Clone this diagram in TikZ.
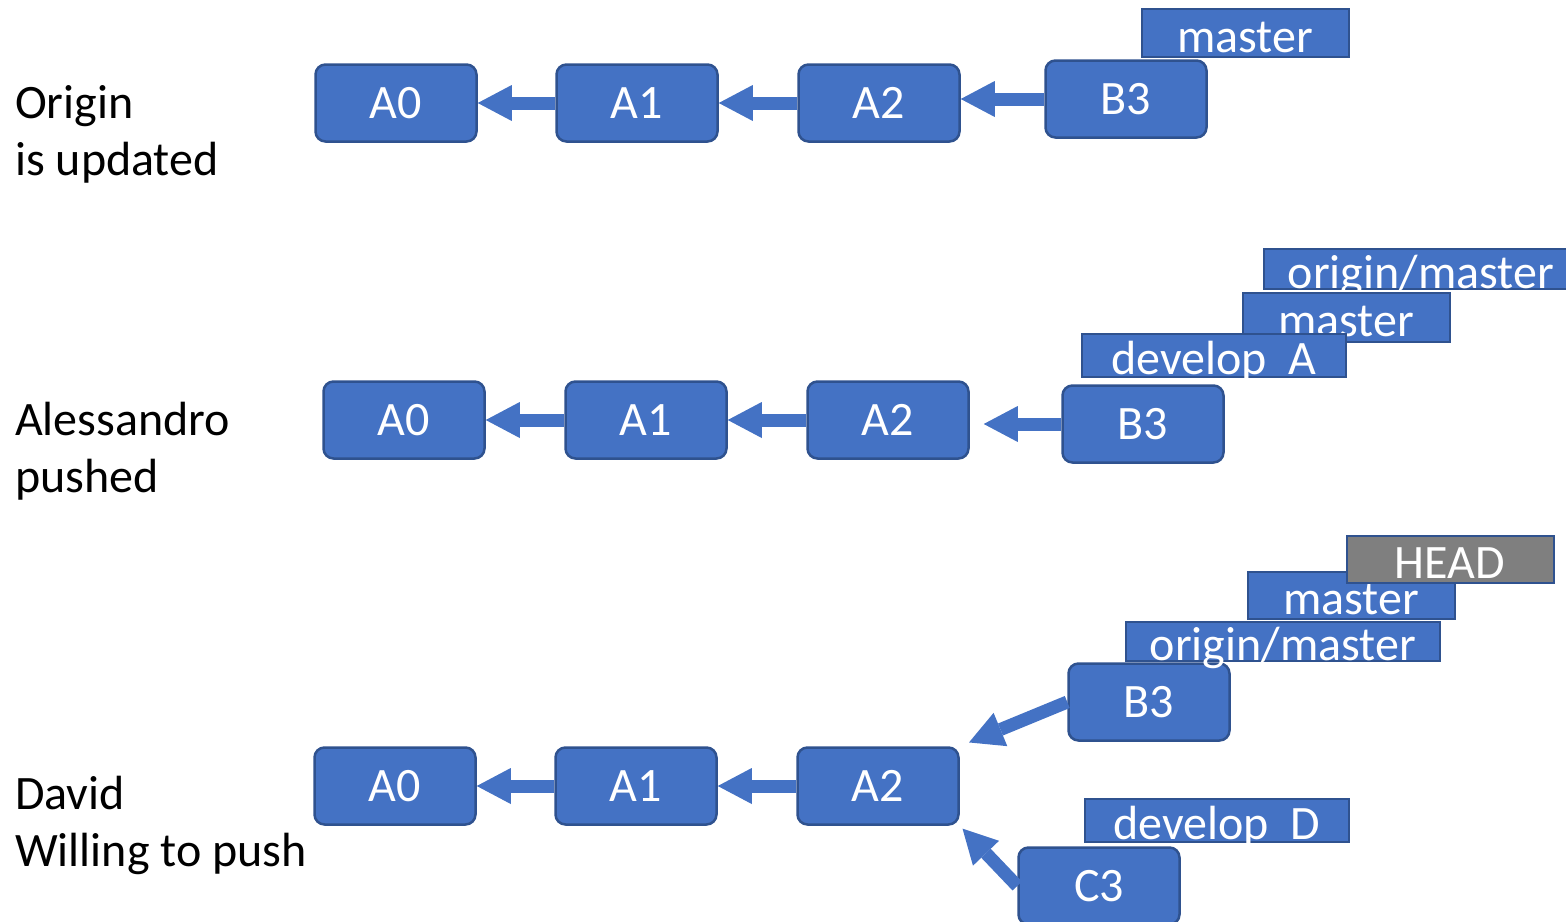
\documentclass[tikz,border=0pt]{standalone}
\usepackage{fontspec}
\setmainfont{Carlito}
\usetikzlibrary{arrows.meta}
\definecolor{gitblue}{HTML}{4472C4}
\definecolor{bordblue}{HTML}{2F528F}
\definecolor{headgray}{HTML}{7F7F7F}
\newcommand{\gitfont}{\fontsize{48}{57}\selectfont}

\begin{document}
\begin{tikzpicture}[x=1pt,y=-1pt,
		commit/.style={rectangle, rounded corners=10pt, draw=bordblue, fill=gitblue, line width=2.5pt,
			minimum width=161pt, minimum height=77pt, inner sep=0pt, text=white, font=\gitfont},
		branch/.style={rectangle, draw=bordblue, fill=gitblue, line width=2pt, inner sep=0pt,
			text height=38pt, text depth=0pt, text=white, font=\gitfont},
		headref/.style={branch, fill=headgray, draw=bordblue},
		gitarrow/.style={color=gitblue, line width=13pt, -{Triangle[width=36pt,length=34pt,line width=0pt]}},
		caption/.style={anchor=base west, align=left, inner sep=0pt, font=\gitfont}]
			\useasboundingbox (0,0) rectangle (1566,921);
			% origin
			\node[caption] (origintxt) at (15,175) {Origin\\is updated};
			\node[commit] (oA0) at (396,103) {A0};
			\node[commit] (oA1) at (637,103) {A1};
			\node[commit] (oA2) at (879,103) {A2};
			\node[commit] (oB3) at (1126,99) {B3};
			\node[branch, minimum width=207pt, minimum height=48pt] (omaster) at (1245,33) {master};
			\draw[gitarrow] (oA1.west) -- (oA0.east);
			\draw[gitarrow] (oA2.west) -- (oA1.east);
			\draw[gitarrow] (oB3.west) -- (oB3.west -| oA2.east);
			% alessandro
			\node[caption] (alextxt) at (15,492) {Alessandro\\pushed};
			\node[commit] (aA0) at (404,420) {A0};
			\node[commit] (aA1) at (646,420) {A1};
			\node[commit] (aA2) at (888,420) {A2};
			\node[commit] (aB3) at (1143,424) {B3};
			\node[branch, minimum width=314pt, minimum height=40pt] (aorigin) at (1421,269) {origin/master};
			\node[branch, minimum width=207pt, minimum height=49pt] (amaster) at (1346,317) {master};
			\node[branch, minimum width=264pt, minimum height=43pt] (adevelop) at (1214,355) {develop\ \ A};
			\draw[gitarrow] (aA1.west) -- (aA0.east);
			\draw[gitarrow] (aA2.west) -- (aA1.east);
			\draw[gitarrow, shorten >=14pt] (aB3.west) -- (aB3.west -| aA2.east);
			% david
			\node[caption] (davidtxt) at (15,866) {David\\Willing to push};
			\node[commit] (dA0) at (395,786) {A0};
			\node[commit] (dA1) at (636,786) {A1};
			\node[commit] (dA2) at (878,786) {A2};
			\node[commit] (dB3) at (1149,702) {B3};
			\node[commit] (dC3) at (1099,886) {C3};
			\node[branch, minimum width=314pt, minimum height=39pt] (dorigin) at (1283,641) {origin/master};
			\node[branch, minimum width=207pt, minimum height=47pt] (dmaster) at (1351,595) {master};
			\node[headref, minimum width=207pt, minimum height=47pt] (dhead) at (1450,559) {HEAD};
			\node[branch, minimum width=264pt, minimum height=43pt] (ddevelop) at (1217,820) {develop\ \ D};
			\draw[gitarrow] (dA1.west) -- (dA0.east);
			\draw[gitarrow] (dA2.west) -- (dA1.east);
			\draw[gitarrow, shorten >=10pt] (dB3.west) -- (dA2.north east);
			\draw[gitarrow, shorten >=4pt] (dC3.west) -- (dA2.south east);
\end{tikzpicture}
\end{document}
